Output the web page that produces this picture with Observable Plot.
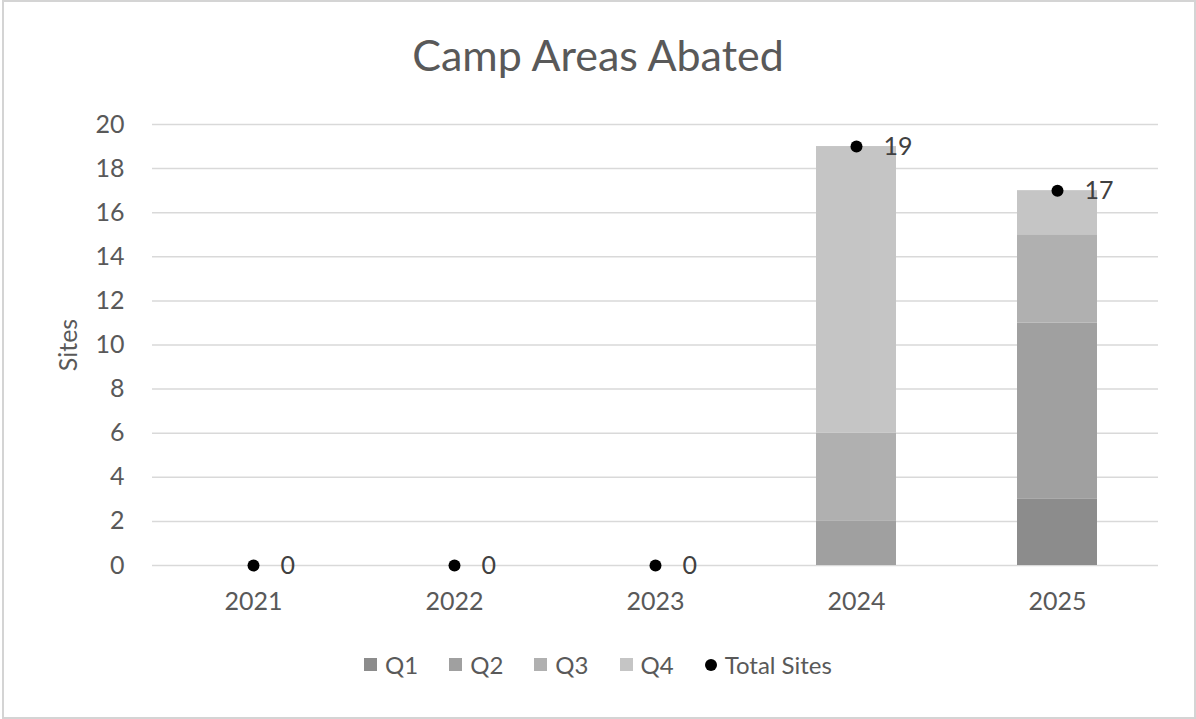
<!DOCTYPE html>
<html>
<head>
<meta charset="utf-8">
<script src="https://cdn.jsdelivr.net/npm/d3@7"></script>
<script src="https://cdn.jsdelivr.net/npm/@observablehq/plot@0.6"></script>
<style>
  html, body { margin: 0; padding: 0; background: #fff; }
  #wrap { position: relative; width: 1196px; height: 719px; overflow: hidden; font-family: Lato, "Noto Sans", sans-serif; }
  #frame { position: absolute; left: 2px; top: 0px; width: 1190px; height: 715px; border: 2px solid #d4d4d4; }
  #title { position: absolute; left: 0; width: 1196px; top: 33px; text-align: center; font-size: 43px; color: #595959; line-height: 1; }
  #ylabel { position: absolute; left: 67px; top: 345px; transform: translate(-50%, -50%) rotate(-90deg); font-size: 25px; color: #595959; white-space: nowrap; line-height: 1; }
  #chart { position: absolute; left: 0; top: 0; }
  #legend { position: absolute; left: 0; width: 1196px; top: 651px; display: flex; justify-content: center; gap: 31px; font-size: 24px; color: #595959; line-height: 1.15; }
  .item { display: flex; align-items: center; gap: 8px; }
  .sw { width: 13px; height: 13px; display: inline-block; }
  .dotsw { width: 12px; height: 12px; border-radius: 50%; background: #000; display: inline-block; }
</style>
</head>
<body>
<div id="wrap">
  <div id="frame"></div>
  <div id="chart"></div>
  <div id="title">Camp Areas Abated</div>
  <div id="ylabel">Sites</div>
  <div id="legend"></div>
</div>
<script>
const years = ["2021", "2022", "2023", "2024", "2025"];
const quarters = ["Q1", "Q2", "Q3", "Q4"];
const q1 = [0, 0, 0, 0, 3];
const q2 = [0, 0, 0, 2, 8];
const q3 = [0, 0, 0, 4, 4];
const q4 = [0, 0, 0, 13, 2];
const totals = [0, 0, 0, 19, 17];
const yTicks = [0, 2, 4, 6, 8, 10, 12, 14, 16, 18, 20];
const quarterColors = ["#8c8c8c", "#a0a0a0", "#b0b0b0", "#c5c5c5"];

const series = [q1, q2, q3, q4];
const stacked = [];
years.forEach((yr, i) => {
  quarters.forEach((q, j) => stacked.push({year: yr, quarter: q, value: series[j][i]}));
});
const totalData = years.map((yr, i) => ({year: yr, total: totals[i]}));

const chart = Plot.plot({
  width: 1196,
  height: 719,
  marginTop: 124,
  marginBottom: 154,
  marginLeft: 152,
  marginRight: 38,
  style: {fontFamily: "Lato, 'Noto Sans', sans-serif", background: "transparent"},
  x: {type: "band", domain: years, paddingInner: 0.6, paddingOuter: 0.3},
  y: {domain: [0, 20]},
  color: {domain: quarters, range: quarterColors},
  marks: [
    Plot.gridY(yTicks, {stroke: "#d9d9d9", strokeOpacity: 1, strokeWidth: 1.5}),
    Plot.barY(stacked, {x: "year", y: "value", fill: "quarter", order: quarters}),
    Plot.axisY(yTicks, {tickSize: 0, tickPadding: 28, label: null, fontSize: 25, fill: "#595959"}),
    Plot.axisX({tickSize: 0, tickPadding: 27, label: null, fontSize: 25, fill: "#595959"}),
    Plot.dot(totalData, {x: "year", y: "total", r: 6, fill: "#000", stroke: null}),
    Plot.text(totalData, {x: "year", y: "total", text: d => String(d.total), dx: 27, textAnchor: "start", fontSize: 25, fill: "#404040"})
  ]
});
document.getElementById("chart").appendChild(chart);

const legend = document.getElementById("legend");
quarters.forEach((q, j) => {
  const it = document.createElement("div");
  it.className = "item";
  const sw = document.createElement("span");
  sw.className = "sw";
  sw.style.background = quarterColors[j];
  const t = document.createElement("span");
  t.textContent = q;
  it.appendChild(sw); it.appendChild(t);
  legend.appendChild(it);
});
const tot = document.createElement("div");
tot.className = "item";
tot.innerHTML = '<span class="dotsw"></span><span>Total Sites</span>';
legend.appendChild(tot);
</script>
</body>
</html>
